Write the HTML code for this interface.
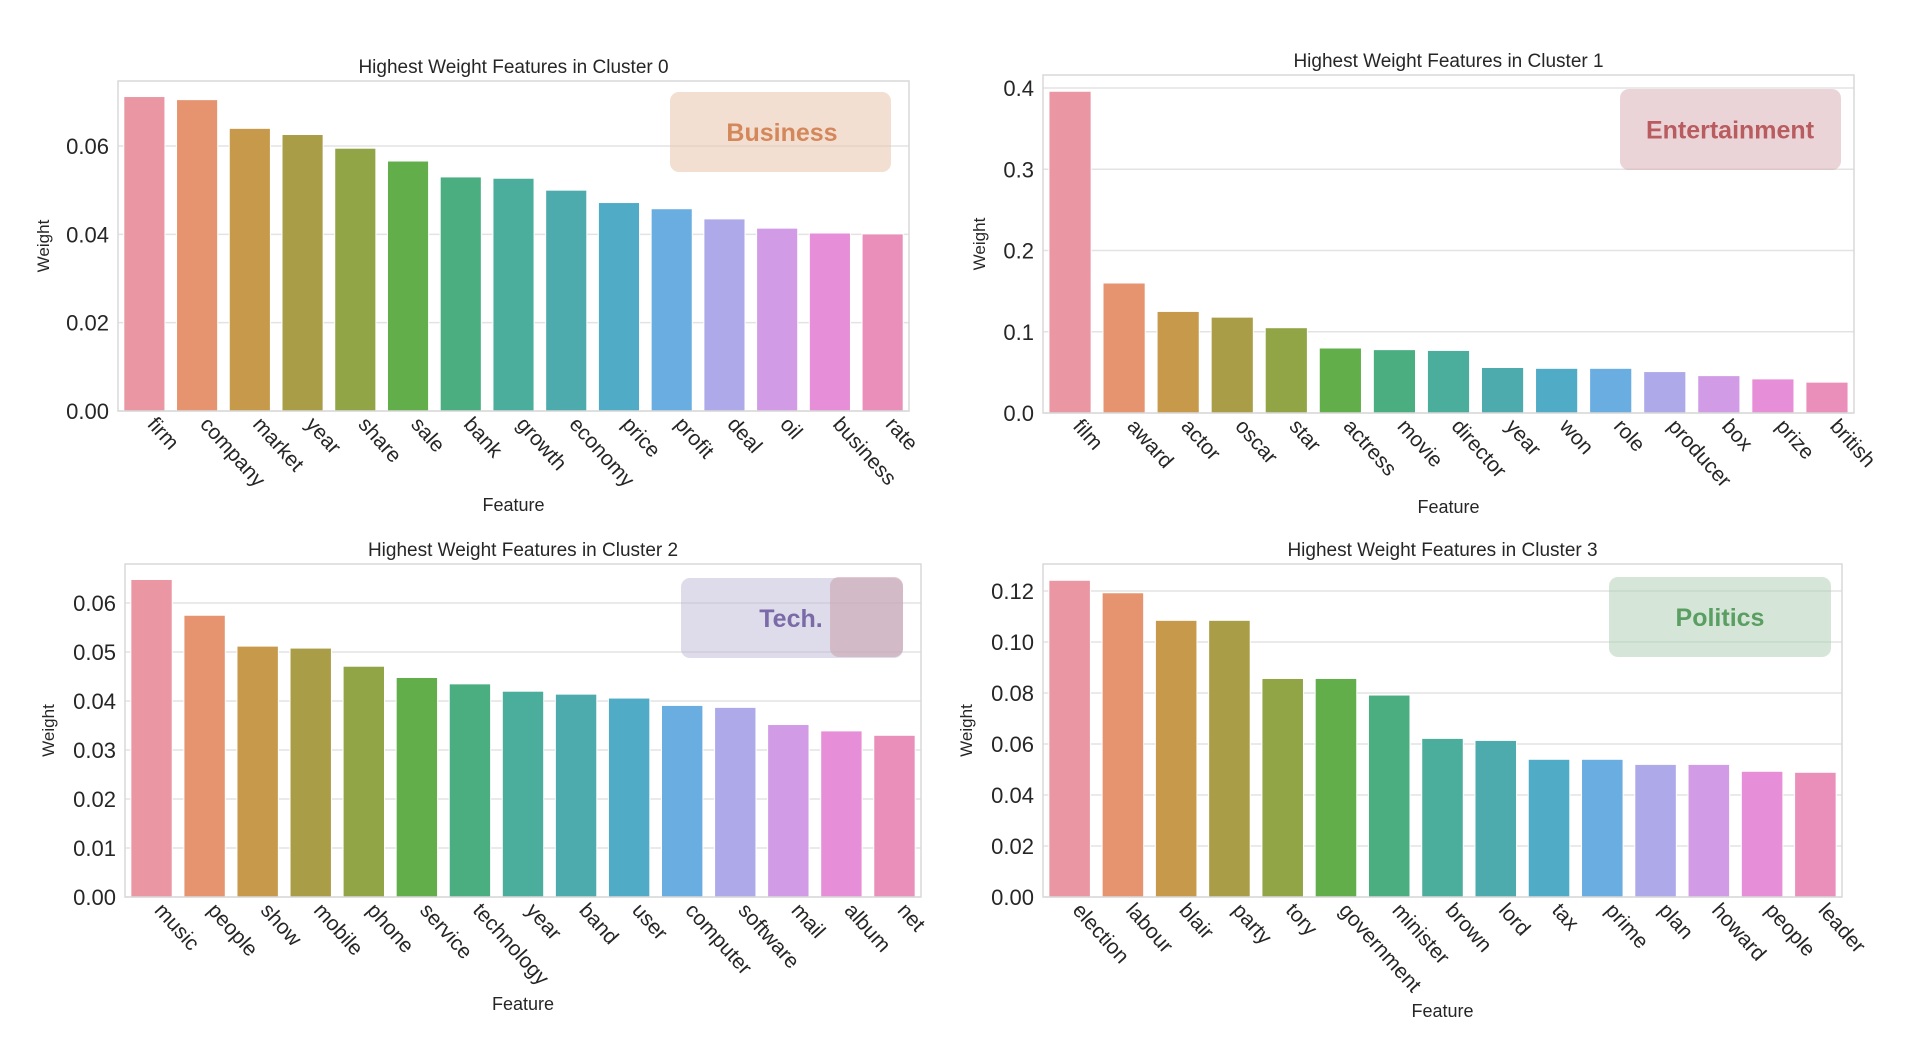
<!DOCTYPE html>
<html><head><meta charset="utf-8"><style>
html,body{margin:0;padding:0;background:#fff;}
svg{display:block;}
text{font-family:"Liberation Sans",Arial,sans-serif;fill:#262626;}
</style></head><body>
<svg id="root" width="1920" height="1051" viewBox="0 0 1920 1051"></svg>
<script>
const cats0 = ["firm","company","market","year","share","sale","bank","growth","economy","price","profit","deal","oil","business","rate"];
const vals0 = [0.0712,0.0705,0.0640,0.0626,0.0595,0.0566,0.0530,0.0527,0.0500,0.0472,0.0458,0.0435,0.0414,0.0403,0.0401];
const ticks0 = [0,0.02,0.04,0.06];
const tickLabels0 = ["0.00","0.02","0.04","0.06"];

const cats1 = ["film","award","actor","oscar","star","actress","movie","director","year","won","role","producer","box","prize","british"];
const vals1 = [0.396,0.160,0.125,0.118,0.105,0.080,0.078,0.077,0.056,0.055,0.055,0.051,0.046,0.042,0.038];
const ticks1 = [0,0.1,0.2,0.3,0.4];
const tickLabels1 = ["0.0","0.1","0.2","0.3","0.4"];

const cats2 = ["music","people","show","mobile","phone","service","technology","year","band","user","computer","software","mail","album","net"];
const vals2 = [0.0648,0.0575,0.0512,0.0508,0.0471,0.0448,0.0435,0.0420,0.0414,0.0406,0.0391,0.0387,0.0352,0.0339,0.0330];
const ticks2 = [0,0.01,0.02,0.03,0.04,0.05,0.06];
const tickLabels2 = ["0.00","0.01","0.02","0.03","0.04","0.05","0.06"];

const cats3 = ["election","labour","blair","party","tory","government","minister","brown","lord","tax","prime","plan","howard","people","leader"];
const vals3 = [0.1242,0.1193,0.1085,0.1085,0.0857,0.0857,0.0792,0.0622,0.0614,0.0540,0.0540,0.0520,0.0520,0.0493,0.0489];
const ticks3 = [0,0.02,0.04,0.06,0.08,0.10,0.12];
const tickLabels3 = ["0.00","0.02","0.04","0.06","0.08","0.10","0.12"];

const colors = ["#ea96a3","#e5946f","#c7994a","#aa9d47","#91a547","#62ae4a","#4bae81","#4bae9c","#4daaad","#50abc6","#6aaee1","#aeaaea","#d19be5","#e78ed8","#e98fba"];

const NS = "http://www.w3.org/2000/svg";
const root = document.getElementById('root');
function mk(tag, attrs, parent, txt){
  const e = document.createElementNS(NS, tag);
  for (const k in attrs) e.setAttribute(k, attrs[k]);
  if (txt !== undefined) e.textContent = txt;
  parent.appendChild(e);
  return e;
}

const panels = [
  {cats:cats0, vals:vals0, ticks:ticks0, labels:tickLabels0, title:"Highest Weight Features in Cluster 0",
   L:118,R:909,T:81,B:411, zeroY:411, unitY:146, unitV:0.06, wx:49, fy:511,
   box:{x:670,y:92,w:221,h:80,fill:"rgba(232,196,172,0.55)",color:"#d4875a",text:"Business",tx:782}},
  {cats:cats1, vals:vals1, ticks:ticks1, labels:tickLabels1, title:"Highest Weight Features in Cluster 1",
   L:1043,R:1854,T:75,B:413, zeroY:413, unitY:88, unitV:0.4, wx:985, fy:513,
   box:{x:1620,y:89,w:221,h:81,fill:"rgba(216,170,176,0.5)",color:"#b85c60",text:"Entertainment",tx:1730}},
  {cats:cats2, vals:vals2, ticks:ticks2, labels:tickLabels2, title:"Highest Weight Features in Cluster 2",
   L:125,R:921,T:564,B:897, zeroY:897, unitY:603, unitV:0.06, wx:54, fy:1010,
   box:{x:681,y:578,w:222,h:80,fill:"rgba(190,184,214,0.5)",color:"#7a6aa8",text:"Tech.",tx:791,overlay:true}},
  {cats:cats3, vals:vals3, ticks:ticks3, labels:tickLabels3, title:"Highest Weight Features in Cluster 3",
   L:1043,R:1842,T:564,B:897, zeroY:897, unitY:591, unitV:0.12, wx:972, fy:1017,
   box:{x:1609,y:577,w:222,h:80,fill:"rgba(172,206,180,0.5)",color:"#5a9e62",text:"Politics",tx:1720}}
];

panels.forEach((p, pi) => {
  const g = mk('g', {}, root);
  
  
  const yScale = v => p.zeroY - (v / p.unitV) * (p.zeroY - p.unitY);
  const slot = (p.R - p.L) / p.cats.length;
  const xCenter = i => p.L + slot * (i + 0.5);

  p.ticks.forEach((t, i) => {
    const y = yScale(t);
    const gl = mk('line', {x1:p.L, x2:p.R, y1:y, y2:y, stroke:"#e3e3e3", "stroke-width":1.5}, g);
    
    
    const tl = mk('text', {x:p.L-9, y:y+8, "text-anchor":"end", "font-size":22}, g, p.labels[i]);
    
    
  });

  p.vals.forEach((v, i) => {
    const w = slot * 0.78;
    const y = yScale(v);
    const b = mk('rect', {x:xCenter(i)-w/2, y:y, width:w, height:p.zeroY-y, fill:colors[i], stroke:"#ffffff", "stroke-width":1}, g);
    
    
    const cx = xCenter(i) + 2, cy = p.B + 14;
    const xl = mk('text', {x:cx, y:cy, "font-size":21, transform:"rotate(48 " + cx + " " + cy + ")"}, g, p.cats[i]);
    
    
  });

  const fr = mk('rect', {x:p.L, y:p.T, width:p.R-p.L, height:p.B-p.T, fill:"none", stroke:"#d9d9d9", "stroke-width":1.5}, g);
  
  

  const tt = mk('text', {x:(p.L+p.R)/2, y:p.T-8, "text-anchor":"middle", "font-size":19}, g, p.title);
  
  

  const my = (p.T + p.B) / 2;
  const wl = mk('text', {x:p.wx, y:my, "text-anchor":"middle", "font-size":17, transform:"rotate(-90 " + (p.wx) + " " + my + ")"}, g, "Weight");
  
  
  const fl = mk('text', {x:(p.L+p.R)/2, y:p.fy, "text-anchor":"middle", "font-size":18}, g, "Feature");
  
  

  const bx = p.box;
  const br = mk('rect', {x:bx.x, y:bx.y, width:bx.w, height:bx.h, rx:9, fill:bx.fill}, g);
  
  
  if (bx.overlay) {
    const ov = mk('rect', {x:830, y:bx.y-1, width:73, height:bx.h, rx:9, fill:"rgba(200,160,170,0.55)"}, g);
    
    
  }
  const bt = mk('text', {x:bx.tx, y:bx.y+bx.h/2+9, "text-anchor":"middle", "font-size":25, "font-weight":"bold", style:"fill:" + bx.color}, g, bx.text);
  
  
});
</script>
</body></html>
